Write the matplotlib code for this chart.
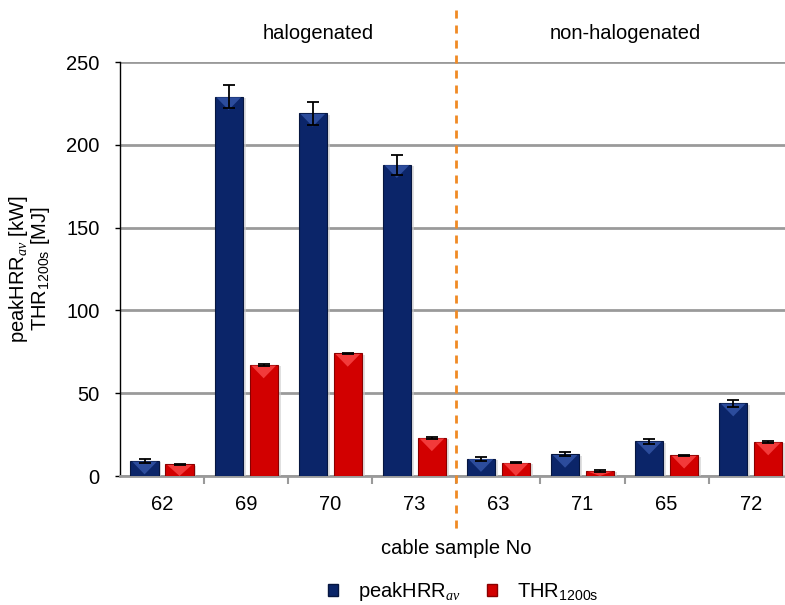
import matplotlib.pyplot as plt
import numpy as np
from matplotlib.patches import Polygon
from matplotlib.lines import Line2D
import matplotlib.patheffects as pe

# Data
samples = ['62', '69', '70', '73', '63', '71', '65', '72']
peak_hrr = [9, 229, 219, 188, 10.5, 13, 21, 44]
peak_hrr_err = [1.2, 7, 7, 6, 1.2, 1.2, 1.5, 2.2]
thr = [7, 67, 74, 23, 8, 3, 12.5, 20.5]
thr_err = [0.5, 0.5, 0.5, 0.6, 0.4, 0.4, 0.4, 0.4]
groups = ['halogenated', 'non-halogenated']

# Style
BLUE = '#0b2569'
BLUE_HI = '#2c4c9c'
RED = '#d20000'
RED_HI = '#f23a3a'
GRID = '#9a9a9a'
ORANGE = '#f08a24'
FS = 14.5

plt.rcParams.update({
    'font.family': ['Liberation Sans', 'DejaVu Sans'],
    'font.size': FS,
    'mathtext.fontset': 'custom',
    'mathtext.rm': 'Liberation Sans',
    'mathtext.it': 'Liberation Serif:italic',
})

fig = plt.figure(figsize=(7.85, 6.05), dpi=100)
ax = fig.add_axes([0.1529, 0.2132, 0.857, 0.6843])

x = np.arange(len(samples))
w = 0.335
off = 0.208

shadow = [pe.SimplePatchShadow(offset=(2, -1), shadow_rgbFace='#cccccc', alpha=0.6), pe.Normal()]
b1 = ax.bar(x - off, peak_hrr, w, color=BLUE, edgecolor='#061640', linewidth=0.8, zorder=3,
            path_effects=shadow)
b2 = ax.bar(x + off, thr, w, color=RED, edgecolor='#8a0000', linewidth=0.8, zorder=3,
            path_effects=shadow)

# bevel highlight on top of each bar
for bars, hi in ((b1, BLUE_HI), (b2, RED_HI)):
    for p in bars:
        x0, w0, h = p.get_x(), p.get_width(), p.get_height()
        d = min(h, 8)
        tri = Polygon([(x0 + 0.02, h - 0.3), (x0 + w0 - 0.02, h - 0.3), (x0 + w0 / 2, h - d)],
                      closed=True, facecolor=hi, edgecolor='none', zorder=4)
        ax.add_patch(tri)

ax.errorbar(x - off, peak_hrr, yerr=peak_hrr_err, fmt='none', ecolor='black',
            elinewidth=1.3, capsize=4.5, capthick=1.3, zorder=5)
ax.errorbar(x + off, thr, yerr=thr_err, fmt='none', ecolor='black',
            elinewidth=1.3, capsize=4.5, capthick=1.3, zorder=5)

ax.set_xlim(-0.5, len(samples) - 0.5)
ax.set_ylim(0, 250)
ax.set_yticks(np.arange(0, 251, 50))
ax.yaxis.grid(True, color=GRID, linewidth=2, zorder=0)
ax.set_axisbelow(True)

ax.set_xticks(x)
ax.set_xticklabels(samples)
ax.set_xticks(np.arange(0.5, len(samples) - 0.5, 1), minor=True)
ax.tick_params(axis='x', which='major', length=0, pad=14)
ax.tick_params(axis='x', which='minor', length=6, width=1.5, color=GRID)
ax.tick_params(axis='y', length=3.6, width=1, pad=11)

for s in ('top', 'right'):
    ax.spines[s].set_visible(False)
ax.spines['bottom'].set_color(GRID)
ax.spines['bottom'].set_linewidth(2)
ax.spines['left'].set_linewidth(1)

ax.set_xlabel('cable sample No', labelpad=18)
ax.set_ylabel('peakHRR$_{av}$ [kW]\nTHR$_{\\mathrm{1200s}}$ [MJ]', labelpad=10,
              linespacing=0.95)

# divider between groups
ax.add_line(Line2D([3.5, 3.5], [1.126, -0.135], transform=ax.get_xaxis_transform(),
                   color=ORANGE, linestyle=(0, (2.9, 2.5)), linewidth=2, clip_on=False, zorder=6))

fig.text(0.405, 0.945, groups[0], ha='center', va='center')
fig.text(0.797, 0.945, groups[1], ha='center', va='center')

handles = [plt.Rectangle((0, 0), 1, 1, facecolor=BLUE, edgecolor='#061640'),
           plt.Rectangle((0, 0), 1, 1, facecolor=RED, edgecolor='#8a0000')]
fig.legend(handles, ['peakHRR$_{av}$', 'THR$_{\\mathrm{1200s}}$'], loc='center',
           bbox_to_anchor=(0.59, 0.022), ncol=2, frameon=False,
           handlelength=0.5, handleheight=0.5, columnspacing=1.3, handletextpad=1.0)

fig.savefig('out.png', dpi=100)
